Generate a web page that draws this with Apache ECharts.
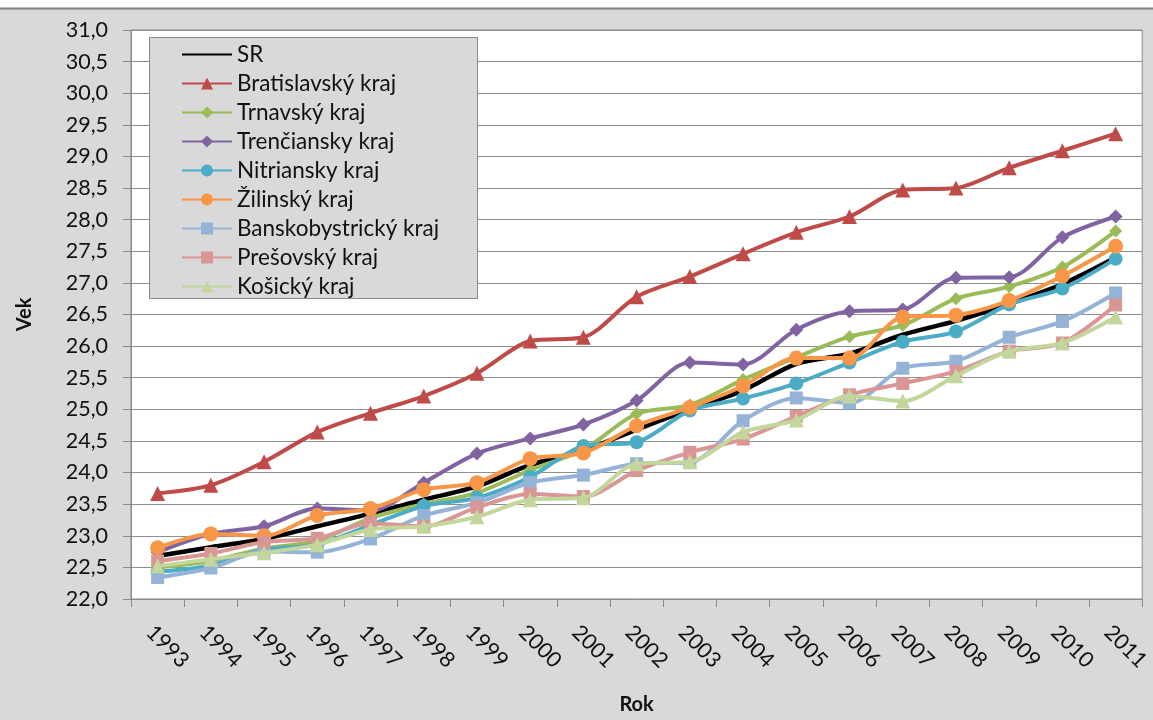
<!DOCTYPE html>
<html>
<head>
<meta charset="utf-8">
<script src="https://cdn.jsdelivr.net/npm/echarts@6/dist/echarts.min.js"></script>
<style>
html,body{margin:0;padding:0;background:#d9d9d9;}
#chart{width:1153px;height:720px;}
</style>
</head>
<body>
<div id="chart"></div>
<script>
const years = ['1993','1994','1995','1996','1997','1998','1999','2000','2001','2002','2003','2004','2005','2006','2007','2008','2009','2010','2011'];
const seriesNames = ['SR','Bratislavský kraj','Trnavský kraj','Trenčiansky kraj','Nitriansky kraj','Žilinský kraj','Banskobystrický kraj','Prešovský kraj','Košický kraj'];
const sr          = [22.68,22.82,22.95,23.15,23.35,23.57,23.78,24.12,24.35,24.68,25.00,25.30,25.72,25.88,26.18,26.40,26.67,26.98,27.40];
const bratislavsky= [23.67,23.80,24.17,24.64,24.94,25.21,25.57,26.08,26.14,26.78,27.10,27.46,27.80,28.05,28.47,28.50,28.82,29.09,29.36];
const trnavsky    = [22.50,22.60,22.80,22.92,23.28,23.50,23.68,24.04,24.36,24.93,25.07,25.47,25.82,26.15,26.33,26.75,26.94,27.25,27.82];
const trenciansky = [22.74,23.03,23.15,23.43,23.40,23.84,24.30,24.54,24.76,25.14,25.74,25.71,26.26,26.55,26.58,27.08,27.09,27.72,28.05];
const nitriansky  = [22.43,22.53,22.78,22.86,23.17,23.47,23.60,23.93,24.42,24.48,24.98,25.17,25.41,25.74,26.07,26.23,26.66,26.91,27.38];
const zilinsky    = [22.81,23.03,23.00,23.32,23.43,23.73,23.84,24.22,24.31,24.74,25.03,25.37,25.81,25.81,26.46,26.49,26.72,27.11,27.58];
const banskobystricky = [22.34,22.49,22.75,22.74,22.95,23.32,23.52,23.84,23.96,24.14,24.16,24.82,25.18,25.10,25.65,25.76,26.14,26.39,26.84];
const presovsky   = [22.60,22.72,22.90,22.96,23.20,23.15,23.45,23.66,23.62,24.03,24.32,24.53,24.89,25.23,25.41,25.60,25.92,26.05,26.65];
const kosicky     = [22.52,22.63,22.73,22.86,23.10,23.15,23.30,23.57,23.60,24.14,24.17,24.64,24.83,25.21,25.13,25.53,25.92,26.05,26.46];

const values = [sr,bratislavsky,trnavsky,trenciansky,nitriansky,zilinsky,banskobystricky,presovsky,kosicky];
const colors = ['#000000','#BE4B48','#9BBB59','#8064A2','#4BACC6','#F79646','#95B3D7','#D99694','#C3D69B'];
const symbols = ['none','triangle','diamond','diamond','circle','circle','rect','rect','triangle'];
const symbolSizes = [0,15,13,14,14,15,13,13,15];

const FONT = 'Lato';
const chart = echarts.init(document.getElementById('chart'));
const series = seriesNames.map((n,i)=>({
  name:n, type:'line', data: values[i],
  smooth:0.3,
  symbol: symbols[i], symbolSize: symbolSizes[i],
  showSymbol: i!==0,
  lineStyle:{color:colors[i], width: i===0?4.5:4},
  itemStyle:{color:colors[i]},
  emphasis:{disabled:true},
  z: 2+i
}));

const legendData = seriesNames.map((n,i)=> i===0 ? {name:n, itemStyle:{opacity:0}} : {name:n});

chart.setOption({
  backgroundColor:'#d9d9d9',
  animation:false,
  textStyle:{fontFamily:FONT},
  grid:{left:131,right:10,top:30,bottom:116,show:true,backgroundColor:'#ffffff',borderColor:'#8a8a8a',borderWidth:1},
  graphic:[
    {type:'rect', shape:{x:0,y:0,width:1153,height:8}, style:{fill:'#ffffff'}, z:0},
    {type:'line', shape:{x1:0,y1:8.5,x2:1153,y2:8.5}, style:{stroke:'#808080',lineWidth:2}, z:0},
    {type:'rect', shape:{x:149.5,y:37.5,width:328,height:261}, style:{fill:'#d9d9d9',stroke:'#8a8a8a',lineWidth:1}, z:3}
  ],
  legend:{
    orient:'vertical', left:150, top:40,
    padding:[3,10,3,31],
    itemWidth:50, itemHeight:15, itemGap:6,
    textStyle:{fontFamily:FONT,fontSize:22.5,color:'#111',lineHeight:21},
    data: legendData,
    z:4
  },
  xAxis:{
    type:'category', data:years, boundaryGap:true,
    name:'Rok', nameLocation:'middle', nameGap:96,
    nameTextStyle:{fontFamily:FONT,fontSize:20,fontWeight:'bold',color:'#111'},
    axisLine:{lineStyle:{color:'#8a8a8a',width:1}},
    axisTick:{show:true,length:8,alignWithLabel:false,lineStyle:{color:'#8a8a8a'}},
    axisLabel:{rotate:-45,margin:22,align:'left',verticalAlign:'top',fontFamily:FONT,fontSize:21.5,color:'#111',interval:0},
    splitLine:{show:false}
  },
  yAxis:{
    type:'value', min:22, max:31, interval:0.5,
    name:'Vek', nameLocation:'middle', nameGap:96, nameRotate:90,
    nameTextStyle:{fontFamily:FONT,fontSize:20,fontWeight:'bold',color:'#111'},
    axisLine:{show:true,lineStyle:{color:'#8a8a8a',width:1}},
    axisTick:{show:true,length:8,lineStyle:{color:'#8a8a8a'}},
    axisLabel:{margin:23,fontFamily:FONT,fontSize:21.5,color:'#111',formatter:v=>v.toFixed(1).replace('.',',')},
    splitLine:{show:true,lineStyle:{color:'#8e8e8e',width:1.2}}
  },
  series: series
});
</script>
</body>
</html>
